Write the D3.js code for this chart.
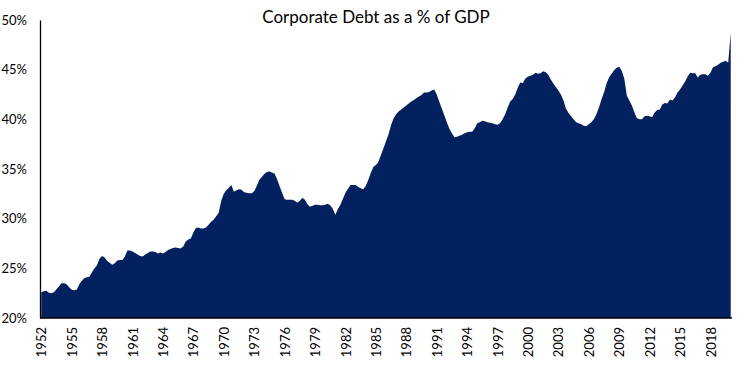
<!DOCTYPE html>
<html>
<head>
<meta charset="utf-8">
<script src="https://cdn.jsdelivr.net/npm/d3@7"></script>
<style>
  body { margin: 0; background: #fff; }
  svg text { font-family: Lato, "Open Sans", sans-serif; fill: #000; }
</style>
</head>
<body>
<div id="chart"></div>
<script>
// quarterly corporate debt as % of GDP, 1952 Q1 .. 2020 Q1
const firstYear = 1952;
const debtPct = [
  22.6, 22.7, 22.75, 22.55,   // 1952
  22.5, 22.6, 22.9, 23.2,
  23.5, 23.5, 23.4, 23.1,
  22.85, 22.8, 22.85, 23.4,   // 1955
  23.75, 24.0, 24.1, 24.15,
  24.6, 25.0, 25.3, 26.0,
  26.25, 26.1, 25.75, 25.55,  // 1958
  25.35, 25.5, 25.8, 25.85,
  25.85, 26.2, 26.8, 26.8,
  26.7, 26.55, 26.4, 26.25,   // 1961
  26.2, 26.4, 26.55, 26.7,
  26.7, 26.65, 26.5, 26.6,
  26.5, 26.65, 26.85, 26.95,  // 1964
  27.05, 27.1, 27.05, 27.0,
  27.2, 27.7, 27.9, 28.0,
  28.6, 29.05, 29.1, 29.0,    // 1967
  29.0, 29.1, 29.4, 29.7,
  29.9, 30.25, 30.6, 31.8,
  32.5, 32.85, 33.1, 33.4,    // 1970
  32.7, 32.85, 32.95, 32.9,
  32.65, 32.6, 32.55, 32.55,
  32.75, 33.3, 33.9, 34.2,    // 1973
  34.5, 34.7, 34.75, 34.65,
  34.55, 34.0, 33.3, 32.6,
  31.95, 31.9, 31.9, 31.9,    // 1976
  31.8, 31.6, 31.8, 32.1,
  31.9, 31.45, 31.2, 31.3,
  31.4, 31.4, 31.35, 31.35,   // 1979
  31.4, 31.5, 31.35, 31.0,
  30.4, 30.95, 31.4, 32.0,
  32.6, 33.0, 33.4, 33.4,     // 1982
  33.4, 33.2, 33.05, 32.95,
  33.3, 33.9, 34.6, 35.2,
  35.4, 35.7, 36.4, 37.1,     // 1985
  37.8, 38.5, 39.4, 40.1,
  40.5, 40.8, 41.0, 41.2,
  41.4, 41.6, 41.8, 41.95,    // 1988
  42.15, 42.3, 42.45, 42.7,
  42.7, 42.75, 42.9, 43.0,
  42.5, 41.8, 41.1, 40.4,     // 1991
  39.7, 39.05, 38.6, 38.2,
  38.25, 38.35, 38.45, 38.6,
  38.7, 38.75, 38.75, 39.1,   // 1994
  39.6, 39.7, 39.85, 39.8,
  39.7, 39.65, 39.6, 39.5,
  39.45, 39.6, 40.0, 40.5,    // 1997
  41.2, 41.8, 42.05, 42.5,
  43.2, 43.7, 43.65, 44.1,
  44.3, 44.4, 44.5, 44.7,     // 2000
  44.6, 44.65, 44.85, 44.75,
  44.5, 44.0, 43.6, 43.25,
  42.9, 42.5, 41.9, 41.1,     // 2003
  40.65, 40.3, 40.0, 39.7,
  39.6, 39.5, 39.35, 39.3,
  39.5, 39.7, 40.0, 40.5,     // 2006
  41.2, 42.0, 42.7, 43.6,
  44.2, 44.6, 44.95, 45.2,
  45.3, 44.9, 44.1, 42.4,     // 2009
  41.9, 41.4, 40.7, 40.1,
  40.0, 40.0, 40.3, 40.35,
  40.3, 40.2, 40.7, 40.95,    // 2012
  41.0, 41.5, 41.65, 41.6,
  42.0, 41.9, 42.2, 42.7,
  43.0, 43.4, 43.8, 44.3,     // 2015
  44.7, 44.65, 44.65, 44.2,
  44.5, 44.55, 44.55, 44.4,
  44.7, 45.25, 45.35, 45.5,   // 2018
  45.7, 45.8, 45.9, 45.7,
  48.7                        // 2020 Q1
];
const tickYears = [1952, 1955, 1958, 1961, 1964, 1967, 1970, 1973, 1976, 1979, 1982, 1985,
  1988, 1991, 1994, 1997, 2000, 2003, 2006, 2009, 2012, 2015, 2018];
const yTicks = [20, 25, 30, 35, 40, 45, 50];

const w = 737, h = 365;
const padLeft = 40, padRight = 732, padTop = 20, padBottom = 318;

const dataset = debtPct.map((v, i) => ({
  key: `${firstYear + Math.floor(i / 4)}Q${(i % 4) + 1}`,
  value: v
}));

const svg = d3.select('#chart')
  .append('svg')
  .attr('width', w)
  .attr('height', h);

const xScale = d3.scalePoint()
  .domain(dataset.map(d => d.key))
  .range([padLeft, padRight])
  .padding(0.5);

const yScale = d3.scaleLinear()
  .domain([20, 50])
  .range([padBottom, padTop]);

const area = d3.area()
  .x(d => xScale(d.key))
  .y0(yScale(20))
  .y1(d => yScale(d.value));

svg.append('path')
  .datum(dataset)
  .attr('fill', '#03215f')
  .attr('d', area);

// y axis
const yAxis = d3.axisLeft(yScale)
  .tickValues(yTicks)
  .tickSize(0)
  .tickPadding(13)
  .tickFormat(d => d + '%');
svg.append('g')
  .attr('transform', `translate(${padLeft},0)`)
  .call(yAxis)
  .call(g => g.select('.domain').attr('stroke', '#000').attr('stroke-width', 1.3))
  .call(g => g.selectAll('text').attr('font-size', 13).attr('font-family', 'Lato'));

// x axis
const xAxis = d3.axisBottom(xScale)
  .tickValues(tickYears.map(y => y + 'Q1'))
  .tickSize(0)
  .tickFormat(d => d.slice(0, 4));
svg.append('g')
  .attr('transform', `translate(0,${padBottom})`)
  .call(xAxis)
  .call(g => g.select('.domain').attr('stroke', '#000').attr('stroke-width', 1.3).attr('d', `M${padLeft},0H${padRight}`))
  .call(g => g.selectAll('text')
    .attr('font-size', 13)
    .attr('font-family', 'Lato')
    .attr('transform', 'rotate(-90)')
    .attr('text-anchor', 'end')
    .attr('x', -9)
    .attr('y', 0)
    .attr('dy', '0.35em'));

svg.append('text')
  .attr('x', 376)
  .attr('y', 23)
  .attr('text-anchor', 'middle')
  .attr('font-size', 17)
  .text('Corporate Debt as a % of GDP');
</script>
</body>
</html>
